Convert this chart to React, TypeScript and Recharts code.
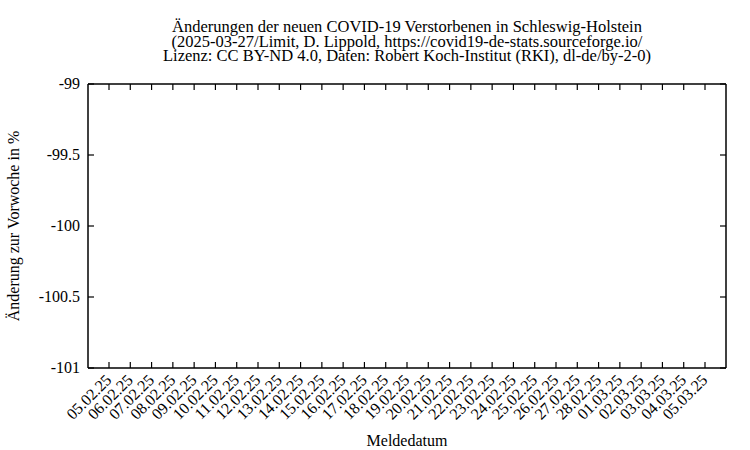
import React from 'react';
import { LineChart, Line, XAxis, YAxis, ReferenceLine } from 'recharts';

const dates = [
  '05.02.25', '06.02.25', '07.02.25', '08.02.25', '09.02.25', '10.02.25', '11.02.25',
  '12.02.25', '13.02.25', '14.02.25', '15.02.25', '16.02.25', '17.02.25', '18.02.25',
  '19.02.25', '20.02.25', '21.02.25', '22.02.25', '23.02.25', '24.02.25', '25.02.25',
  '26.02.25', '27.02.25', '28.02.25', '01.03.25', '02.03.25', '03.03.25', '04.03.25',
  '05.03.25',
];

// No values are drawn in the reference (empty plot)
const changes: (number | null)[] = [
  null, null, null, null, null, null, null,
  null, null, null, null, null, null, null,
  null, null, null, null, null, null, null,
  null, null, null, null, null, null, null,
  null,
];

const yTicks = [-101, -100.5, -100, -99.5, -99];
const yDomain = [-101, -99];

const titleLines = [
  'Änderungen der neuen COVID-19 Verstorbenen in Schleswig-Holstein',
  '(2025-03-27/Limit, D. Lippold, https://covid19-de-stats.sourceforge.io/',
  'Lizenz: CC BY-ND 4.0, Daten: Robert Koch-Institut (RKI), dl-de/by-2-0)',
];

const data = dates.map((d, i) => ({ date: d, value: changes[i] }));

const FONT = "'Liberation Serif', 'Times New Roman', serif";
const textStyle = { fontFamily: FONT, fontSize: 16, fill: '#000' };
const titleStyle = { fontFamily: FONT, fontSize: 16.5, fill: '#000' };
const TICK_LEN = 6;

const BottomTick = (props: any) => {
  const { x, y, payload } = props;
  const ax = x + 3.5;
  const ay = y + 13;
  return (
    <text x={ax} y={ay} textAnchor="end" style={textStyle} transform={`rotate(-45, ${ax}, ${ay})`}>
      {payload.value}
    </text>
  );
};

const LeftTick = (props: any) => {
  const { x, y, payload } = props;
  return (
    <text x={x - 8} y={y} dy={5} textAnchor="end" style={textStyle}>
      {String(payload.value)}
    </text>
  );
};

// inward tick marks at both ends of a vertical reference line (bottom and top axes)
const VTickShape = (props: any) => {
  const { x1, y1, x2, y2 } = props;
  const top = Math.min(y1, y2);
  const bottom = Math.max(y1, y2);
  return (
    <g>
      <line x1={x1} y1={bottom} x2={x2} y2={bottom - TICK_LEN} stroke="#000" strokeWidth={1.2} />
      <line x1={x1} y1={top} x2={x2} y2={top + TICK_LEN} stroke="#000" strokeWidth={1.2} />
    </g>
  );
};

// inward tick marks at both ends of a horizontal reference line (left and right axes)
const HTickShape = (props: any) => {
  const { x1, y1, x2, y2 } = props;
  const left = Math.min(x1, x2);
  const right = Math.max(x1, x2);
  return (
    <g>
      <line x1={left} y1={y1} x2={left + TICK_LEN} y2={y2} stroke="#000" strokeWidth={1.2} />
      <line x1={right} y1={y1} x2={right - TICK_LEN} y2={y2} stroke="#000" strokeWidth={1.2} />
    </g>
  );
};

export default function App() {
  return (
    <div style={{ position: 'absolute', left: 0, top: 0, width: 750, height: 450, background: '#fff' }}>
      <LineChart width={750} height={450} data={data} margin={{ top: 83, right: 23, bottom: 0, left: 0 }}>
        <XAxis dataKey="date" xAxisId="bottom" orientation="bottom" height={82} interval={0}
          padding={{ left: 21, right: 21 }} tickSize={0} tickMargin={0}
          axisLine={{ stroke: '#000', strokeWidth: 1.5 }} tickLine={false} tick={<BottomTick />} />
        <XAxis dataKey="date" xAxisId="top" orientation="top" height={1} interval={0}
          padding={{ left: 21, right: 21 }} axisLine={{ stroke: '#000', strokeWidth: 1.5 }}
          tickLine={false} tick={false} />
        <YAxis yAxisId="left" orientation="left" width={88} domain={yDomain} ticks={yTicks}
          type="number" allowDataOverflow interval={0} tickSize={0} tickMargin={0}
          axisLine={{ stroke: '#000', strokeWidth: 1.5 }} tickLine={false} tick={<LeftTick />} />
        <YAxis yAxisId="right" orientation="right" width={1} domain={yDomain} ticks={yTicks}
          type="number" allowDataOverflow axisLine={{ stroke: '#000', strokeWidth: 1.5 }}
          tickLine={false} tick={false} />
        {dates.map((d) => (
          <ReferenceLine key={`v-${d}`} x={d} xAxisId="bottom" yAxisId="left" ifOverflow="visible" shape={<VTickShape />} />
        ))}
        {yTicks.map((v) => (
          <ReferenceLine key={`h-${v}`} y={v} xAxisId="bottom" yAxisId="left" ifOverflow="visible" shape={<HTickShape />} />
        ))}
        <Line xAxisId="bottom" yAxisId="left" dataKey="value" stroke="#9400d3" dot={false} isAnimationActive={false} />
        <Line xAxisId="top" yAxisId="right" dataKey="value" stroke="#9400d3" dot={false} isAnimationActive={false} />
        {titleLines.map((t, i) => (
          <text key={i} x={407} y={32 + i * 14.5} textAnchor="middle" style={titleStyle}>{t}</text>
        ))}
        <text x={407} y={446} textAnchor="middle" style={textStyle}>Meldedatum</text>
        <text x={19} y={226} textAnchor="middle" style={textStyle} transform="rotate(-90, 19, 226)">
          Änderung zur Vorwoche in %
        </text>
      </LineChart>
    </div>
  );
}
